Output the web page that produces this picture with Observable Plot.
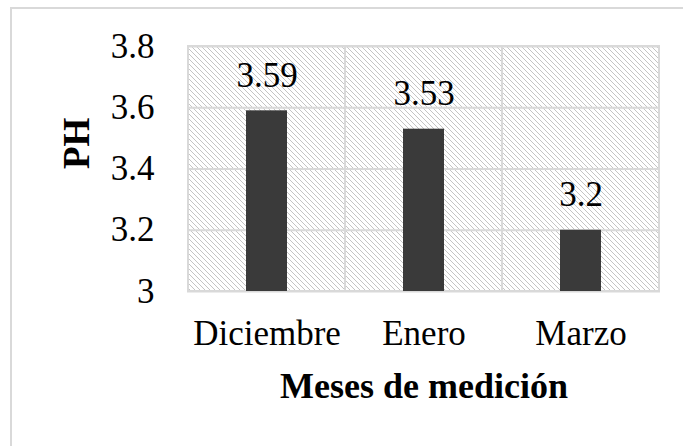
<!DOCTYPE html>
<html>
<head>
<meta charset="utf-8">
<script src="https://cdn.jsdelivr.net/npm/d3@7"></script>
<script src="https://cdn.jsdelivr.net/npm/@observablehq/plot@0.6"></script>
<style>
  html, body { margin: 0; padding: 0; background: #fff; overflow: hidden; }
  #wrap { position: relative; width: 683px; height: 446px; overflow: hidden; }
  #border { position: absolute; left: 10px; top: 7px; width: 900px; height: 700px; border: 2px solid #d9d9d9; box-sizing: border-box; }
  #chart { position: absolute; left: 0; top: 0; }
</style>
</head>
<body>
<div id="wrap"><div id="border"></div><div id="chart"></div></div>
<script>
const months = ["Diciembre", "Enero", "Marzo"];
const ph = [3.59, 3.53, 3.2];
const yTicks = [3, 3.2, 3.4, 3.6, 3.8];
const yDomain = [3, 3.8];
const xTitle = "Meses de medición";
const yTitle = "PH";

const data = months.map((m, i) => ({month: m, value: ph[i]}));

const defsMark = (index, scales, values, dimensions, context) => {
  const ns = "http://www.w3.org/2000/svg";
  const defs = context.document.createElementNS(ns, "defs");
  defs.innerHTML = '<pattern id="hatch" patternUnits="userSpaceOnUse" width="5" height="5">' +
    '<rect width="5" height="5" fill="#ffffff"/>' +
    '<path d="M-1,-1 L6,6 M-1,4 L1,6 M4,-1 L6,1" stroke="#c4c4c4" stroke-width="1"/>' +
    '</pattern>';
  return defs;
};

const chart = Plot.plot({
  width: 683,
  height: 446,
  marginLeft: 187,
  marginRight: 23,
  marginTop: 46,
  marginBottom: 155,
  style: {fontFamily: "'Liberation Serif', 'Times New Roman', serif", fontSize: "35px", color: "#000", background: "transparent"},
  x: {type: "band", domain: months, padding: 0, label: null},
  y: {domain: yDomain, label: null},
  marks: [
    defsMark,
    Plot.barY(months, {x: d => d, y1: yDomain[0], y2: yDomain[1], fill: "url(#hatch)"}),
    Plot.ruleY(yTicks, {stroke: "#d9d9d9", strokeWidth: 2}),
    Plot.barY(months, {x: d => d, y1: yDomain[0], y2: yDomain[1], fill: "none", stroke: "#d9d9d9", strokeWidth: 2}),
    Plot.barY(data, {x: "month", y1: yDomain[0], y2: "value", fill: "#3a3a3a", insetLeft: 58, insetRight: 58}),
    Plot.text(data, {x: "month", y: "value", text: d => String(d.value), dy: -35, fontSize: 35, fill: "#000"}),
    Plot.axisY({ticks: yTicks, tickSize: 0, tickPadding: 33, tickFormat: d => String(d), label: null, fontSize: 35}),
    Plot.axisX({tickSize: 0, tickPadding: 29, label: null, fontSize: 35}),
    Plot.text([xTitle], {frameAnchor: "bottom", lineAnchor: "middle", dy: 95, text: d => d, fontWeight: "bold", fontSize: 36, fill: "#000"}),
    Plot.text([yTitle], {frameAnchor: "left", lineAnchor: "middle", rotate: -90, dx: -110, text: d => d, fontWeight: "bold", fontSize: 37, fill: "#000"})
  ]
});
document.getElementById("chart").appendChild(chart);
</script>
</body>
</html>
